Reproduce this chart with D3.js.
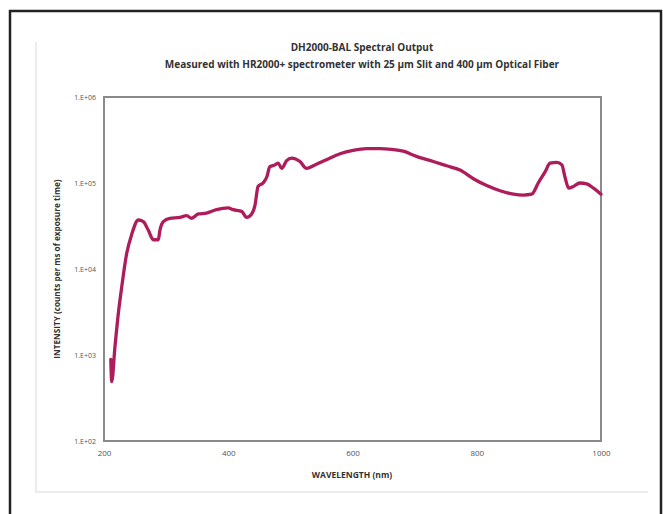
<!DOCTYPE html>
<html>
<head>
<meta charset="utf-8">
<script src="https://cdn.jsdelivr.net/npm/d3@7"></script>
<style>
  html, body { margin: 0; padding: 0; background: #fff; }
  svg { display: block; }
</style>
</head>
<body>
<svg id="chart" width="663" height="514"></svg>
<script>
// ---- data ----
const wavelengths = [211, 212.4, 217.7, 223, 228.5, 236.5, 244.5, 255.3, 263.3, 271.4, 279.4, 287.4, 290, 295.5, 306, 322, 333, 341, 352, 365, 381, 400, 408, 421.6, 429.7, 437.7, 443, 448, 456, 462, 467, 475, 480.5, 486, 494, 502, 515.5, 526, 539.6, 558, 580, 601, 623, 644, 663, 681.6, 703, 730, 751.6, 773, 794.6, 816, 837.6, 859, 875, 888.5, 899, 910, 918, 929, 937, 942, 948, 955.5, 966, 977, 988, 1000];
const logIntensity = [2.95, 2.69, 3.10, 3.48, 3.79, 4.18, 4.40, 4.57, 4.55, 4.45, 4.34, 4.34, 4.45, 4.55, 4.59, 4.60, 4.62, 4.59, 4.64, 4.65, 4.69, 4.71, 4.69, 4.67, 4.60, 4.64, 4.74, 4.96, 5.00, 5.07, 5.19, 5.21, 5.23, 5.17, 5.26, 5.29, 5.25, 5.17, 5.21, 5.27, 5.34, 5.38, 5.40, 5.40, 5.39, 5.37, 5.31, 5.25, 5.20, 5.15, 5.05, 4.97, 4.91, 4.87, 4.86, 4.87, 5.00, 5.13, 5.23, 5.24, 5.21, 5.07, 4.94, 4.96, 5.00, 4.99, 4.94, 4.87];
const intensity = logIntensity.map(v => Math.pow(10, v));
const xTicks = [200, 400, 600, 800, 1000];
const yTicks = [1e2, 1e3, 1e4, 1e5, 1e6];
const yTickLabels = ["1.E+02", "1.E+03", "1.E+04", "1.E+05", "1.E+06"];
const titleText = "DH2000-BAL Spectral Output";
const subtitleText = "Measured with HR2000+ spectrometer with 25 µm Slit and 400 µm Optical Fiber";
const xTitle = "WAVELENGTH (nm)";
const yTitle = "INTENSITY (counts per ms of exposure time)";

// ---- layout ----
const svg = d3.select("#chart");
const font = "'Open Sans', 'Liberation Sans', sans-serif";
const plot = { left: 104, top: 97, right: 601, bottom: 441 };

// outer black frame
svg.append("rect").attr("x", 10).attr("y", 11).attr("width", 651).attr("height", 520)
  .attr("fill", "none").attr("stroke", "#222").attr("stroke-width", 2.5);
// inner light frame (left and bottom edges visible)
svg.append("path").attr("d", "M36,42 V492 H648")
  .attr("fill", "none").attr("stroke", "#e6e6e6").attr("stroke-width", 1.5);

const x = d3.scaleLinear().domain([200, 1000]).range([plot.left, plot.right]);
const y = d3.scaleLog().domain([1e2, 1e6]).range([plot.bottom, plot.top]);

// axes
const xAxis = d3.axisBottom(x).tickValues(xTicks).tickSize(0).tickPadding(9)
  .tickFormat(d3.format("d"));
const gx = svg.append("g").attr("transform", `translate(0,${plot.bottom})`).call(xAxis);
gx.select(".domain").remove();
gx.selectAll("text").attr("font-family", font).attr("font-size", 8).attr("fill", "#555");

const yAxis = d3.axisLeft(y).tickValues(yTicks).tickSize(0).tickPadding(8)
  .tickFormat((d, i) => yTickLabels[i]);
const gy = svg.append("g").attr("transform", `translate(${plot.left},0)`).call(yAxis);
gy.select(".domain").remove();
gy.selectAll("text").attr("font-family", font).attr("font-size", 7).attr("fill", "#555");

// plot box
svg.append("rect").attr("x", plot.left).attr("y", plot.top)
  .attr("width", plot.right - plot.left).attr("height", plot.bottom - plot.top)
  .attr("fill", "none").attr("stroke", "#8a8a8a").attr("stroke-width", 2);

// line
const line = d3.line().x((d, i) => x(wavelengths[i])).y((d) => y(d)).curve(d3.curveMonotoneX);
svg.append("path").datum(intensity).attr("d", line)
  .attr("fill", "none").attr("stroke", "#ad1c5b").attr("stroke-width", 3.3)
  .attr("stroke-linejoin", "round").attr("stroke-linecap", "round");

// titles
svg.append("text").attr("x", 362).attr("y", 51).attr("text-anchor", "middle")
  .attr("font-family", font).attr("font-weight", "bold").attr("font-size", 10).attr("fill", "#333")
  .text(titleText);
svg.append("text").attr("x", 362).attr("y", 68).attr("text-anchor", "middle")
  .attr("font-family", font).attr("font-weight", "bold").attr("font-size", 10).attr("fill", "#333")
  .text(subtitleText);
svg.append("text").attr("x", 352).attr("y", 478).attr("text-anchor", "middle")
  .attr("font-family", font).attr("font-weight", "bold").attr("font-size", 8.5).attr("fill", "#333")
  .text(xTitle);
svg.append("text").attr("transform", "translate(60,269) rotate(-90)").attr("text-anchor", "middle")
  .attr("font-family", font).attr("font-weight", "bold").attr("font-size", 8.2).attr("fill", "#333")
  .text(yTitle);
</script>
</body>
</html>
